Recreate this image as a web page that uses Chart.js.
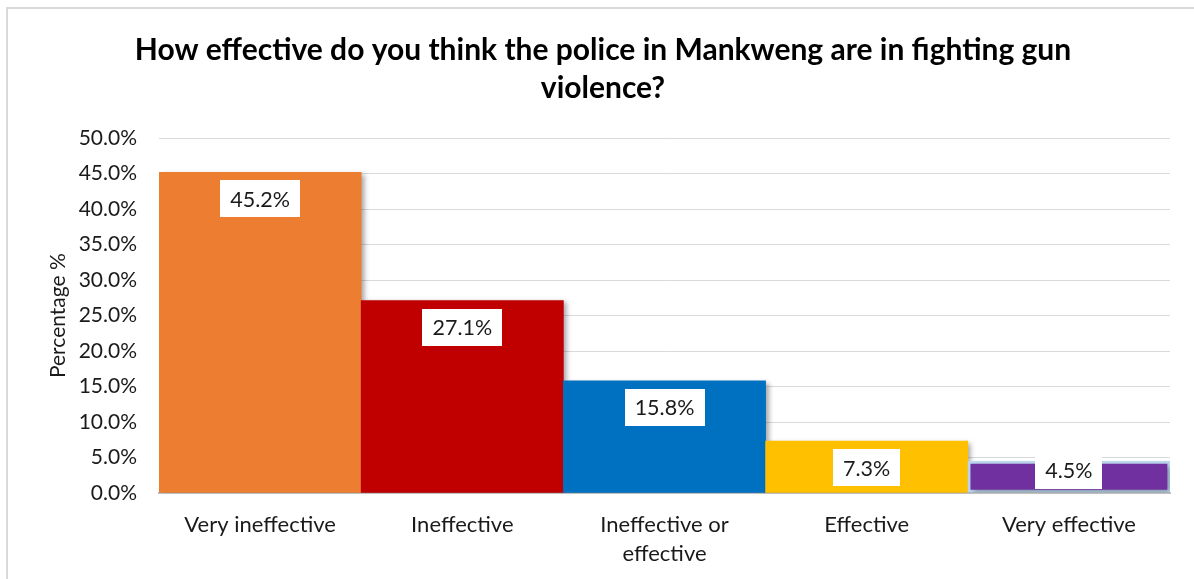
<!DOCTYPE html>
<html>
<head>
<meta charset="utf-8">
<script src="https://cdn.jsdelivr.net/npm/chart.js@4"></script>
<style>
  html, body { margin: 0; padding: 0; background: #fff; overflow: hidden; }
  #frame { position: absolute; left: 6px; top: 7px; width: 1220px; height: 620px; border: 2px solid #d9d9d9; }
  #wrap { position: absolute; left: 0; top: 0; width: 1194px; height: 579px; }
</style>
</head>
<body>
<div id="frame"></div>
<div id="wrap"><canvas id="policeChart" width="1194" height="579"></canvas></div>
<script>
// Survey responses: police effectiveness against gun violence in Mankweng
const categories = ['Very ineffective', 'Ineffective', ['Ineffective or', 'effective'], 'Effective', 'Very effective'];
const percentages = [45.2, 27.1, 15.8, 7.3, 4.5];
const barColors = ['#ED7D31', '#C00000', '#0070C0', '#FFC000', '#7030A0'];
const yTicks = [0, 5, 10, 15, 20, 25, 30, 35, 40, 45, 50];

const FONT = 'Lato, "Open Sans", sans-serif';

// soft shadow behind the bars
const barShadow = {
    id: 'barShadow',
    beforeDatasetsDraw(chart) {
        const ctx = chart.ctx;
        ctx.save();
        ctx.shadowColor = 'rgba(0,0,0,0.35)';
        ctx.shadowBlur = 5;
        ctx.shadowOffsetX = 3;
        ctx.shadowOffsetY = 2;
    },
    afterDatasetsDraw(chart) {
        chart.ctx.restore();
    }
};

// white value boxes near the top of each bar
const valueBoxes = {
    id: 'valueBoxes',
    afterDatasetsDraw(chart) {
        const ctx = chart.ctx;
        const meta = chart.getDatasetMeta(0);
        ctx.save();
        ctx.font = '21.5px ' + FONT;
        ctx.textAlign = 'center';
        ctx.textBaseline = 'middle';
        meta.data.forEach((bar, i) => {
            const text = percentages[i].toFixed(1) + '%';
            const w = ctx.measureText(text).width + 20;
            const h = 37;
            let top = bar.y + 8;
            if (top + h > bar.base - 4) top = bar.base - 4 - h;
            ctx.fillStyle = '#ffffff';
            ctx.fillRect(Math.round(bar.x - w / 2), Math.round(top), Math.round(w), h);
            ctx.fillStyle = '#1a1a1a';
            ctx.fillText(text, bar.x, top + h / 2 + 1);
        });
        ctx.restore();
    }
};

new Chart(document.getElementById('policeChart').getContext('2d'), {
    type: 'bar',
    data: {
        labels: categories,
        datasets: [{
            data: percentages,
            backgroundColor: barColors,
            borderColor: ['#ED7D31', '#C00000', '#0070C0', '#FFC000', '#BDD7EE'],
            borderWidth: [0, 0, 0, 0, 3],
            borderSkipped: false,
            barPercentage: 1,
            categoryPercentage: 1
        }]
    },
    options: {
        responsive: false,
        animation: false,
        layout: { padding: { left: 36, right: 24, top: 0, bottom: 0 } },
        plugins: {
            legend: { display: false },
            tooltip: { enabled: false },
            title: {
                display: true,
                text: ['How effective do you think the police in Mankweng are in fighting gun', 'violence?'],
                color: '#000',
                font: { family: FONT, size: 30, weight: 'bold', lineHeight: 1.27 },
                padding: { top: 31, bottom: 31 }
            }
        },
        scales: {
            x: {
                grid: { display: false, drawTicks: false },
                border: { color: '#bfbfbf', width: 2 },
                ticks: { color: '#1a1a1a', font: { family: FONT, size: 22, lineHeight: 1.32 }, padding: 17, maxRotation: 0 },
                afterFit(scale) { scale.height = 86; }
            },
            y: {
                min: 0,
                max: 50,
                afterBuildTicks(scale) { scale.ticks = yTicks.map(v => ({ value: v })); },
                grid: { color: '#d9d9d9', lineWidth: 1, drawTicks: false },
                border: { display: false },
                ticks: {
                    color: '#1a1a1a',
                    font: { family: FONT, size: 21 },
                    padding: 22,
                    callback: v => v.toFixed(1) + '%'
                },
                title: {
                    display: true,
                    text: 'Percentage %',
                    color: '#1a1a1a',
                    font: { family: FONT, size: 21 },
                    padding: { top: 10, bottom: 0 }
                },
                afterFit(scale) { scale.width = 123; }
            }
        }
    },
    plugins: [barShadow, valueBoxes]
});
</script>
</body>
</html>
